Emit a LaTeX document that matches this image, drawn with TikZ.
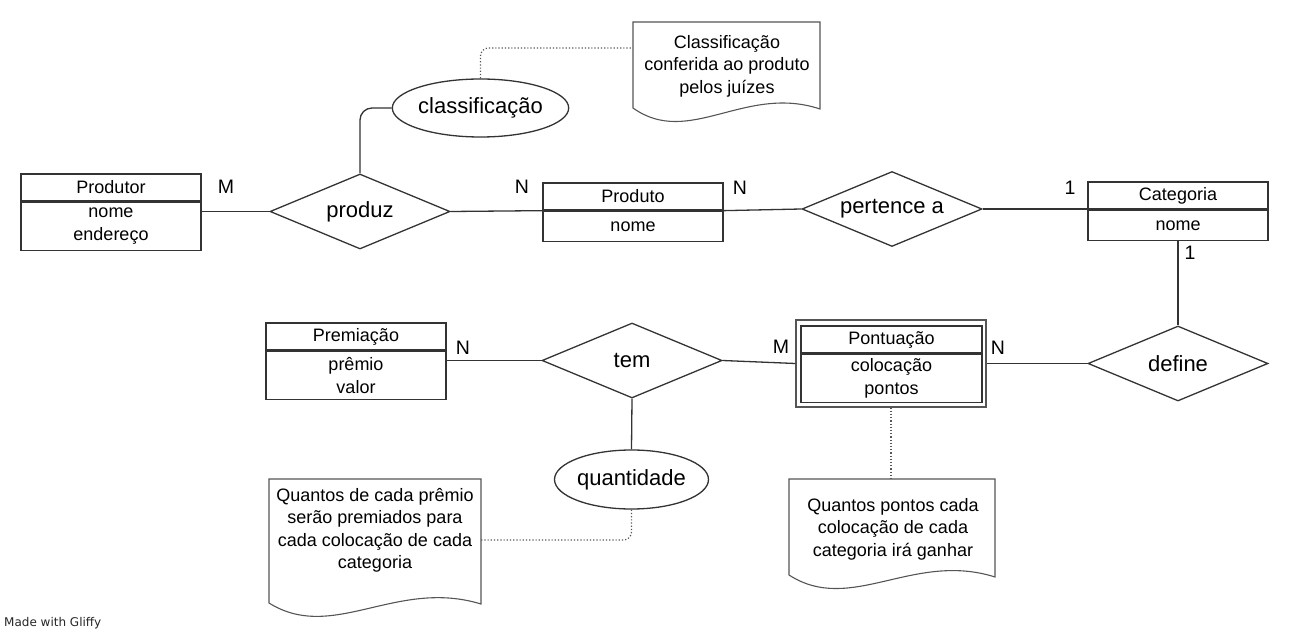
\documentclass[tikz,border=0pt]{standalone}
\usepackage{fontspec}
\setmainfont{Liberation Sans}
\newfontfamily\gliffyfont{DejaVu Sans}
\usetikzlibrary{shapes.geometric}
\newcommand\fsm{\fontsize{18}{22.5}\selectfont}
\newcommand\fbig{\fontsize{22}{25}\selectfont}
\newcommand\flab{\fontsize{19.5}{22}\selectfont}
\definecolor{lc}{HTML}{333333}
\definecolor{nc}{HTML}{555555}
\tikzset{
  box/.style={draw=lc, line width=1.3, minimum width=180, inner sep=0, font=\fsm, text=black, align=center},
  rel/.style={diamond, draw=lc, line width=1.3, aspect=2.4, inner sep=0, minimum width=180, minimum height=75, font=\fbig},
  attr/.style={ellipse, draw=lc, line width=1.3, inner sep=0, font=\fbig},
  conn/.style={draw=lc, line width=1.3},
  dotconn/.style={draw=nc, line width=1.2, dotted, rounded corners=8},
  noteline/.style={draw=nc, line width=1.1},
  notetext/.style={font=\fsm, align=center, text=black},
  lab/.style={font=\flab, text=black, inner sep=0},
}
\begin{document}
\begin{tikzpicture}[x=1pt, y=-1pt]
\useasboundingbox (0,0) rectangle (1293,636);

% ---- Produtor
\node[box, minimum height=27] (prodH) at (111,187.5) {Produtor};
\node[box, minimum height=48, anchor=north] (prodA) at (prodH.south) {nome\\endereço};

% ---- produz
\node[rel] (pz) at (360,211.5) {produz};

% ---- classificacao
\node[attr, minimum width=164, minimum height=58] (cls) at (480.5,108) {classificação};

% ---- Produto
\node[box, minimum height=27] (pdH) at (633,196.5) {Produto};
\node[box, minimum height=30, anchor=north] (pdA) at (pdH.south) {nome};

% ---- pertence a
\node[rel] (pa) at (892,209) {pertence a};

% ---- Categoria
\node[box, minimum height=27] (catH) at (1178,195.5) {Categoria};
\node[box, minimum height=30, anchor=north] (catA) at (catH.south) {nome};

% ---- define
\node[rel] (df) at (1178,363.5) {define};

% ---- Pontuacao (weak entity)
\node[draw=nc, line width=1.2, minimum width=190, minimum height=87, inner sep=0] (pontO) at (891,363.5) {};
\node[box, minimum width=181, minimum height=27] (pontH) at (891.5,339.5) {Pontuação};
\node[box, minimum width=181, minimum height=48, anchor=north] (pontA) at (pontH.south) {colocação\\pontos};

% ---- tem
\node[rel] (tem) at (632,360.5) {tem};

% ---- Premiacao
\node[box, minimum height=27] (preH) at (356,336.5) {Premiação};
\node[box, minimum height=48, anchor=north] (preA) at (preH.south) {prêmio\\valor};

% ---- quantidade
\node[attr, minimum width=147, minimum height=59] (qt) at (631.5,479.5) {quantidade};

% ---- notes
\coordinate (n1w) at (633,48);
\draw[noteline] (820,109) -- (820,22) -- (633,22) -- (633,108)
  .. controls (689,148) and (745,84) .. cycle;
\node[notetext] (n1) at (727,66) {Classificação\\conferida ao produto\\pelos juízes};

\coordinate (n2e) at (481,540);
\draw[noteline] (481,604) -- (481,479) -- (269,479) -- (269,603)
  .. controls (333,643) and (396,578) .. cycle;
\node[notetext] (n2) at (375,530.5) {Quantos de cada prêmio\\serão premiados para\\cada colocação de cada\\categoria};

\coordinate (n3n) at (891,479);
\draw[noteline] (995,577) -- (995,479) -- (789,479) -- (789,575)
  .. controls (851,615) and (913,551) .. cycle;
\node[notetext] (n3) at (893,529) {Quantos pontos cada\\colocação de cada\\categoria irá ganhar};

% ---- connectors
\draw[conn] (prodA.east |- pz.west) -- (pz.west);
\draw[conn, rounded corners=12] (pz.north) |- (cls.west);
\draw[conn] (pz.east) -- (pdH.south west);
\draw[conn] (pdH.south east) -- (pa.west);
\draw[conn] (pa.east) -- (pa.east -| catH.west);
\draw[conn] (catA.south) -- (df.north);
\draw[conn] (df.west) -- (df.west -| pontO.east);
\draw[conn] (tem.east) -- (pontO.west);
\draw[conn] (preA.east |- tem.west) -- (tem.west);
\draw[conn] (tem.south) -- (qt.north);
\draw[dotconn] (cls.north) |- (n1w);
\draw[dotconn] (qt.south) |- (n2e);
\draw[dotconn] (pontO.south) -- (n3n);

% ---- cardinality labels
\node[lab] (l1) at (226,187) {M};
\node[lab] (l2) at (522,187) {N};
\node[lab] (l3) at (740,188) {N};
\node[lab] (l4) at (1070,188) {1};
\node[lab] (l5) at (1190,253) {1};
\node[lab] (l6) at (463,348) {N};
\node[lab] (l7) at (781,347) {M};
\node[lab] (l8) at (998,348) {N};

\node[font=\gliffyfont\fontsize{12}{14}\selectfont, anchor=west, text=black!85, inner sep=0] (mw) at (4,623) {Made with Gliffy};
\end{tikzpicture}
\end{document}
